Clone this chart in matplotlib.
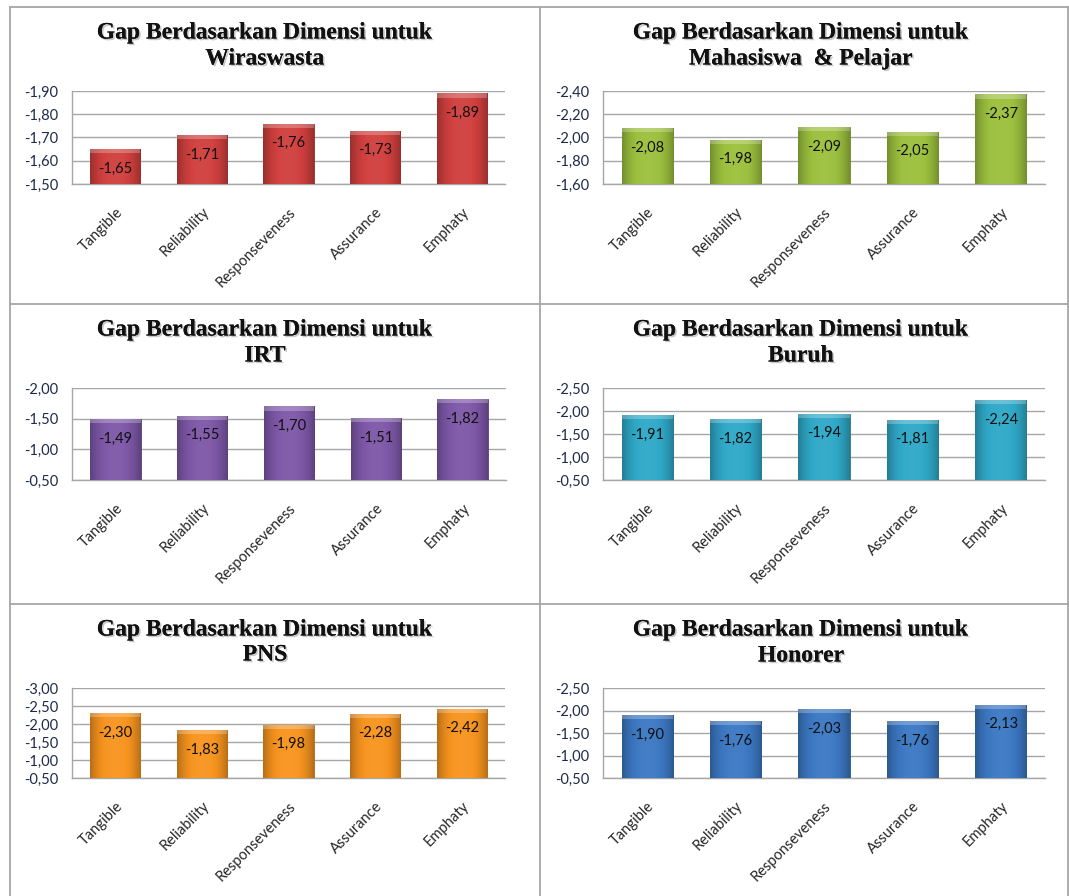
import numpy as np
import matplotlib
matplotlib.use("Agg")
import matplotlib.pyplot as plt
import matplotlib.patheffects as pe
from matplotlib.colors import to_rgb

# ---------------- data ----------------
categories = ["Tangible", "Reliability", "Responseveness", "Assurance", "Emphaty"]

titles = ["Wiraswasta", "Mahasiswa  & Pelajar", "IRT", "Buruh", "PNS", "Honorer"]

wiraswasta = [-1.65, -1.71, -1.76, -1.73, -1.89]
mahasiswa = [-2.08, -1.98, -2.09, -2.05, -2.37]
irt = [-1.49, -1.55, -1.70, -1.51, -1.82]
buruh = [-1.91, -1.82, -1.94, -1.81, -2.24]
pns = [-2.30, -1.83, -1.98, -2.28, -2.42]
honorer = [-1.90, -1.76, -2.03, -1.76, -2.13]

# y-axis ranges (bottom value, top value, step)
axis_wiraswasta = (-1.50, -1.90, -0.10)
axis_mahasiswa = (-1.60, -2.40, -0.20)
axis_irt = (-0.50, -2.00, -0.50)
axis_buruh = (-0.50, -2.50, -0.50)
axis_pns = (-0.50, -3.00, -0.50)
axis_honorer = (-0.50, -2.50, -0.50)

series = [wiraswasta, mahasiswa, irt, buruh, pns, honorer]
axes_spec = [axis_wiraswasta, axis_mahasiswa, axis_irt, axis_buruh, axis_pns, axis_honorer]
colors = ["#D0403E", "#9CC03E", "#7E58A8", "#2FA9C8", "#F7941F", "#3C78C3"]

# ---------------- layout ----------------
W, H = 1069, 896
fig = plt.figure(figsize=(W / 100, H / 100), dpi=100)
fig.patch.set_facecolor("white")

def fx(px):
    return px / W

def fy(py):
    return 1 - py / H

# panel frame lines
frame_col = "#A6A6A6"
for x in (9.5, 539.5, 1067.5):
    fig.add_artist(plt.Line2D([fx(x), fx(x)], [fy(7.5), fy(896)], color=frame_col, lw=1.3))
for y in (7.5, 303.5, 603.5):
    fig.add_artist(plt.Line2D([fx(9.5), fx(1067.5)], [fy(y), fy(y)], color=frame_col, lw=1.3))

# plot-area boxes in pixels: (x0, x1, ytop, ybottom)
plot_boxes = [
    (72, 505, 91, 184),
    (603, 1045, 91, 184),
    (72, 506, 388, 480),
    (603, 1045, 388, 480),
    (72, 505, 688, 778),
    (603, 1045, 688, 778),
]
title_pos = [
    (265, 33, 59),
    (801, 33, 59),
    (265, 330, 356),
    (801, 330, 356),
    (265, 630, 655),
    (801, 630, 656),
]

title_font = dict(family="Liberation Serif", fontweight="bold", fontsize=17, color="#111111")
shadow = [pe.withSimplePatchShadow(offset=(1.2, -1.2), shadow_rgbFace="#9a9a9a", alpha=0.55), pe.Normal()]
lab_font = "Lato"
ytick_col = "#1F2A4A"
xtick_col = "#262626"


def shade(c, f):
    r = np.array(to_rgb(c))
    if f >= 1:
        return r + (1 - r) * (f - 1)
    return r * f


for i in range(6):
    x0, x1, yt, yb = plot_boxes[i]
    ax = fig.add_axes([fx(x0), fy(yb), fx(x1 - x0), (yb - yt) / H])
    base, top, step = axes_spec[i]
    vals = series[i]
    xs = np.arange(len(categories))
    heights = [v - base for v in vals]
    bars = ax.bar(xs, heights, bottom=base, width=0.58, color=colors[i],
                  edgecolor=shade(colors[i], 0.7), linewidth=0.6, zorder=3)

    # gradient overlay inside each bar (lighter centre, darker edges)
    n = 64
    t = np.linspace(-1, 1, n)
    prof = 1.04 - 0.30 * np.abs(t) ** 2.5
    grad = np.array([np.clip(shade(colors[i], f), 0, 1) for f in prof])[None, :, :]
    span = abs(top - base)
    for b in bars:
        bx = b.get_x()
        bw = b.get_width()
        by = b.get_y()
        bh = b.get_height()
        im = ax.imshow(grad, extent=(bx, bx + bw, by, by + bh), aspect="auto",
                       interpolation="bilinear", zorder=4, origin="lower")
        im.set_clip_path(b)
        # top bevel highlight
        ax.add_patch(plt.Rectangle((bx, by + bh), bw, 0.045 * span,
                                   facecolor="white", alpha=0.25, edgecolor="none", zorder=5))

    for xv, v in zip(xs, vals):
        ax.annotate(f"{v:.2f}".replace(".", ","), (xv, v), xytext=(0, -14),
                    textcoords="offset points", ha="center", va="center",
                    fontsize=10.5, family=lab_font, color="#111111", zorder=6)

    ticks = np.arange(0, round((top - base) / step) + 1) * step + base
    ax.set_yticks(ticks)
    ax.set_yticklabels([f"{t:.2f}".replace(".", ",") for t in ticks],
                       fontsize=10.5, family=lab_font, color=ytick_col)
    ax.set_ylim(base, top)
    ax.set_xlim(-0.5, len(categories) - 0.5)
    ax.set_xticks(xs)
    ax.set_xticklabels(categories, fontsize=10.5, family=lab_font, color=xtick_col,
                       rotation=45, ha="right", rotation_mode="anchor")
    ax.tick_params(axis="y", length=0, pad=10)
    ax.tick_params(axis="x", length=0, pad=15)
    ax.grid(axis="y", color="#A6A6A6", lw=1.0, zorder=0)
    ax.set_axisbelow(True)
    for s in ("top", "right"):
        ax.spines[s].set_visible(False)
    for s in ("left", "bottom"):
        ax.spines[s].set_color("#A6A6A6")
        ax.spines[s].set_linewidth(1.0)
    ax.set_facecolor("none")

    tx, ty1, ty2 = title_pos[i]
    t1 = fig.text(fx(tx), fy(ty1), "Gap Berdasarkan Dimensi untuk", ha="center", va="center", **title_font)
    t2 = fig.text(fx(tx), fy(ty2), titles[i], ha="center", va="center", **title_font)
    t1.set_path_effects(shadow)
    t2.set_path_effects(shadow)

fig.savefig("out.png", dpi=100, facecolor="white")
